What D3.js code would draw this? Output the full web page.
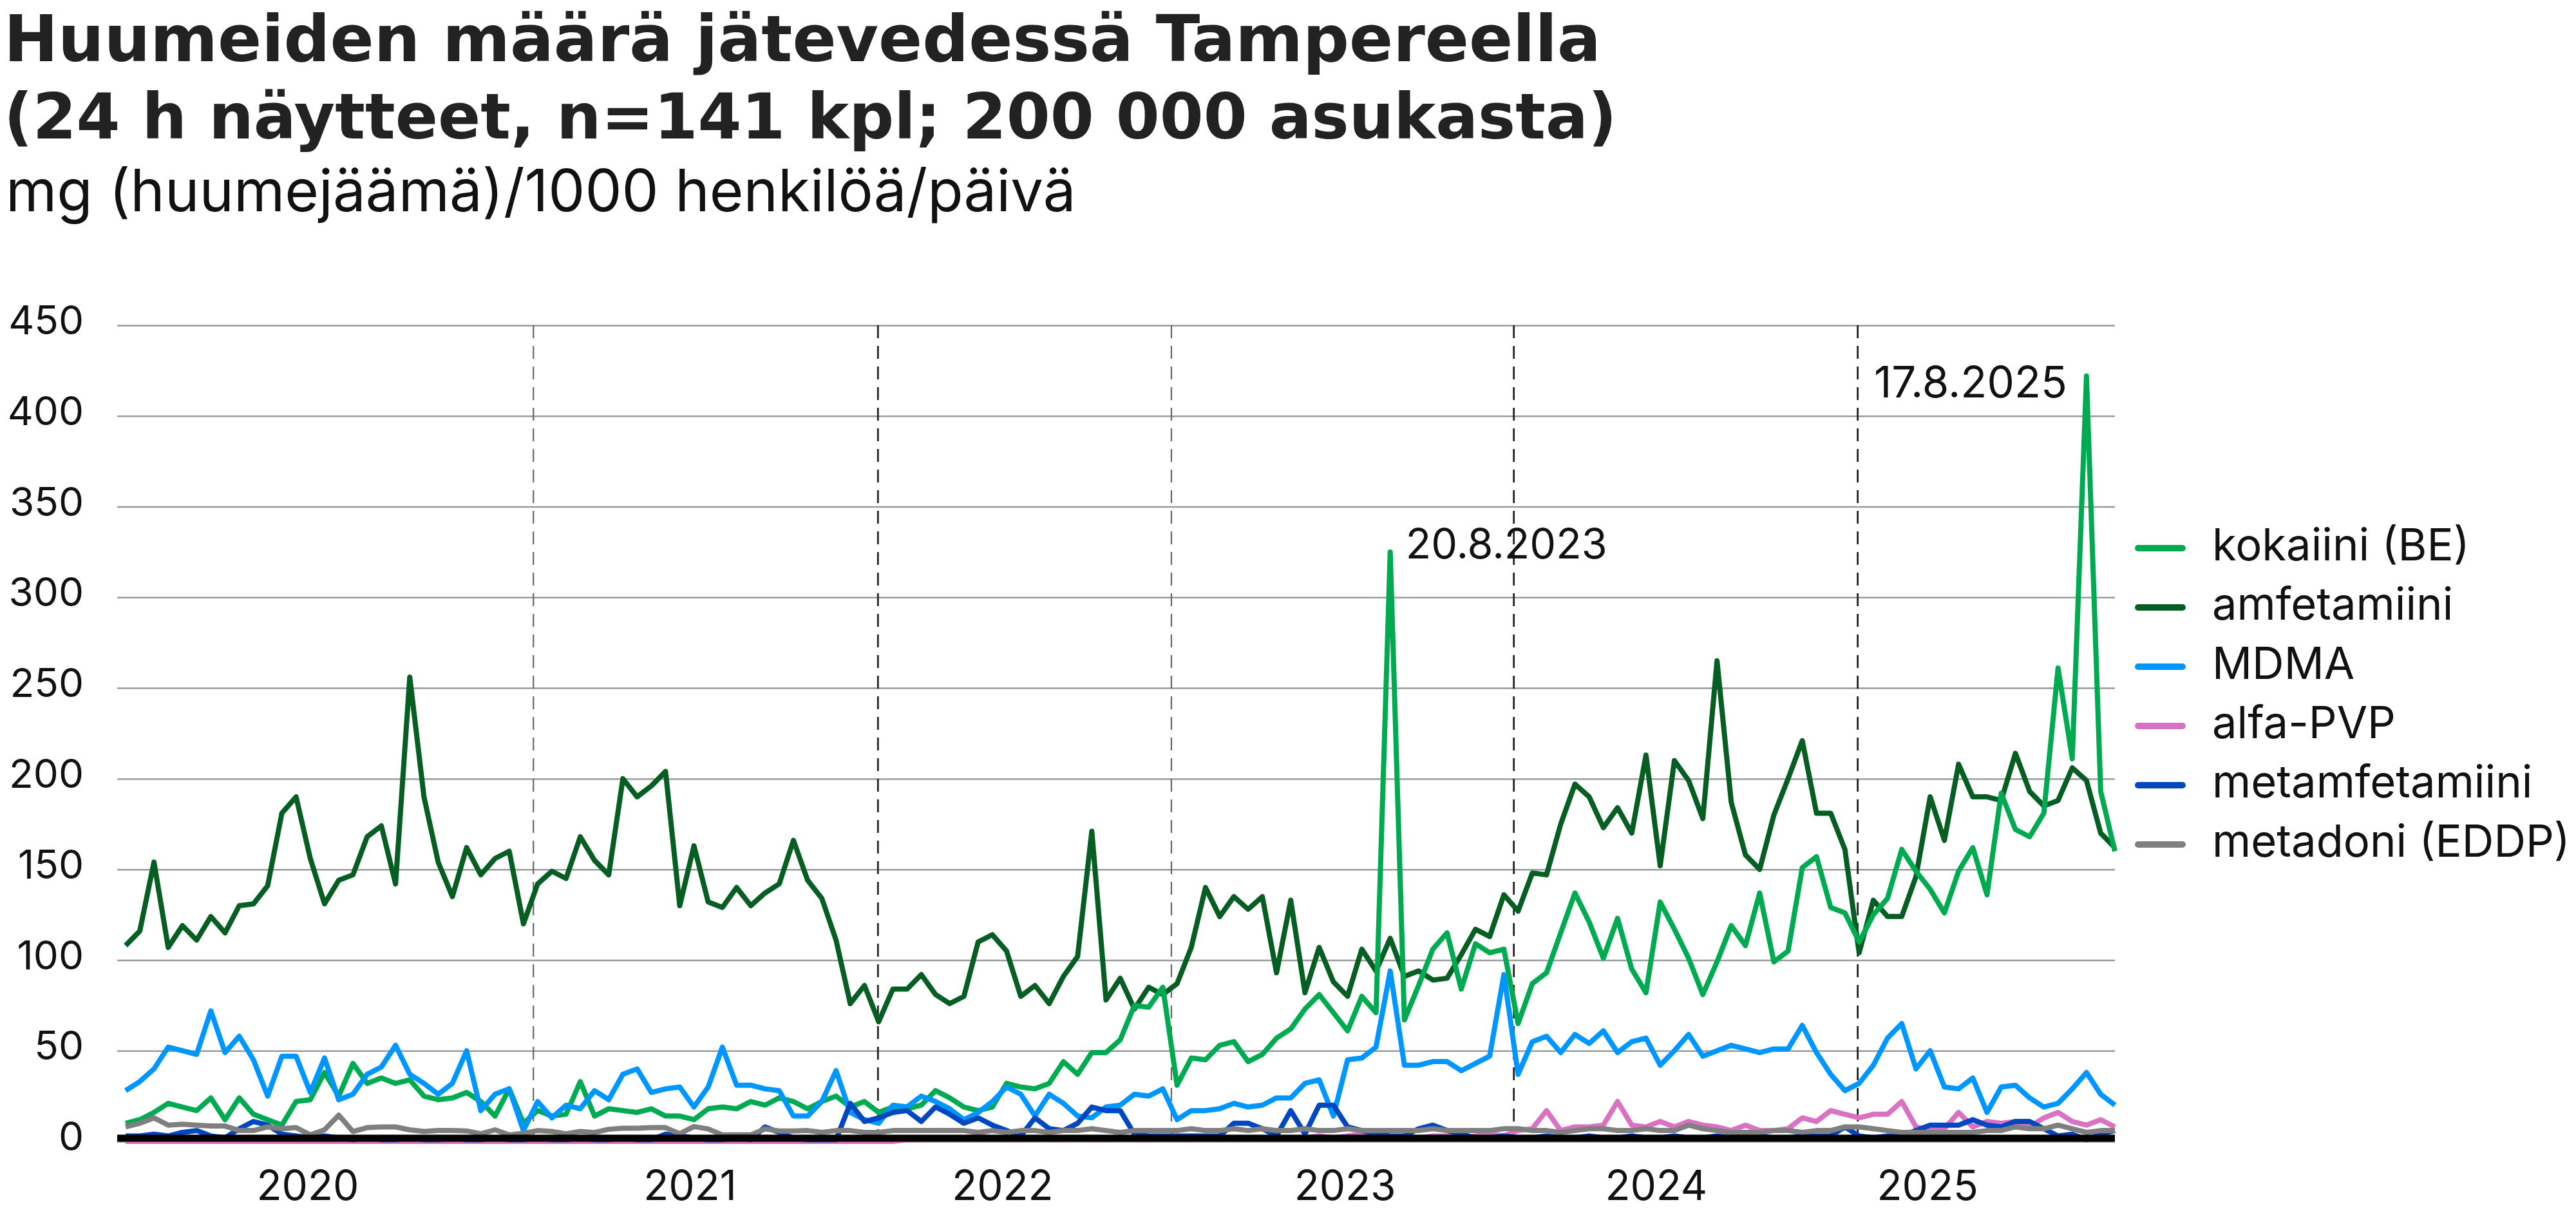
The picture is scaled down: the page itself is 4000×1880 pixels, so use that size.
<!DOCTYPE html>
<html><head><meta charset="utf-8">
<script src="https://cdn.jsdelivr.net/npm/d3@7"></script>
<style>
body{margin:0;background:#fff}
svg{display:block}
text{font-family:Inter,"Noto Sans",sans-serif}
.title{font-family:"DejaVu Sans",Inter,sans-serif}
</style>
</head><body>
<svg id="chart" width="4000" height="1880"></svg>
<script>
// ---- data (mg/1000 henkilöä/päivä), 141 samples ----
const seriesNames = ["kokaiini (BE)","amfetamiini","MDMA","alfa-PVP","metamfetamiini","metadoni (EDDP)"];
const seriesColors = ["#00aa50","#075e22","#0096ff","#da72c4","#0047c0","#7f7f7f"];

const kokaiini = [
10,12,16,21,19,17,24,12,24,15,
12,9,22,23,38,25,43,32,35,32,
34,25,23,24,27,22,14,29,10,17,
14,15,33,14,18,17,16,18,14,14,
12,18,19,18,22,20,24,22,18,22,
25,19,22,16,19,18,20,28,24,19,
17,19,32,30,29,32,44,37,49,49,
56,75,74,85,31,46,45,53,55,44,
48,57,62,73,81,71,61,80,71,325,
67,86,106,115,84,109,104,106,65,87,
93,115,137,121,101,123,95,82,132,117,
101,81,99,119,108,137,99,105,151,157,
129,126,110,125,134,161,149,139,126,149,
162,136,192,172,168,181,261,211,422,193,
160];

const amfetamiini = [
108,116,154,107,119,111,124,115,130,131,
141,181,190,156,131,144,147,168,174,142,
256,190,154,135,162,147,156,160,120,142,
149,145,168,155,147,200,190,196,204,130,
163,132,129,140,130,137,142,166,144,134,
111,76,86,66,84,84,92,81,76,80,
110,114,105,80,86,76,91,102,171,78,
90,73,85,81,87,107,140,124,135,128,
135,93,133,82,107,88,80,106,94,112,
91,94,89,90,103,117,113,136,127,148,
147,175,197,190,173,184,170,213,152,210,
199,178,265,187,158,150,180,200,221,181,
181,161,104,133,124,124,146,190,166,208,
190,190,188,214,193,185,188,206,199,170,
162];

const mdma = [
28,33,40,52,50,48,72,49,58,45,
25,47,47,27,46,23,26,37,41,53,
37,32,26,32,50,17,26,29,6,22,
13,20,18,28,23,37,40,27,29,30,
19,30,52,31,31,29,28,14,14,22,
39,16,12,10,20,19,25,22,18,12,
16,22,30,26,14,26,21,14,13,19,
20,26,25,29,12,17,17,18,21,19,
20,24,24,32,34,14,45,46,52,94,
42,42,44,44,39,43,47,92,37,55,
58,49,59,54,61,49,55,57,42,50,
59,47,50,53,51,49,51,51,64,49,
37,28,32,42,57,65,40,50,30,29,
35,16,30,31,24,19,21,29,38,26,
20];

const alfaPVP = [
0,0,0,0,0,0,0,0,0,0,
0,0,0,0,0,0,0,0,0,0,
0,0,0,0,0,0,0,0,0,0,
0,0,0,0,0,0,0,0,0,0,
0,0,0,0,0,0,0,0,0,0,
0,0,0,0,0,1,1,2,1,2,
3,2,1,1,2,1,1,2,1,1,
2,1,1,2,1,1,2,2,1,2,
2,1,2,2,3,2,3,4,3,2,
3,2,3,3,2,3,4,3,6,7,
17,6,8,8,9,22,9,8,11,8,
11,9,8,6,9,6,6,7,13,11,
17,15,13,15,15,22,8,6,7,16,
8,11,10,11,8,13,16,11,9,12,
8];

const metamfetamiini = [
3,3,4,3,5,6,3,2,7,11,
9,4,3,2,3,2,1,2,1,1,
2,1,1,2,1,1,2,1,1,2,
1,1,2,1,1,2,1,1,4,3,
2,1,1,2,1,8,5,2,1,1,
1,21,11,13,16,17,11,19,15,10,
13,9,6,3,13,7,6,10,19,17,
17,4,3,3,3,3,3,3,10,10,
7,3,17,4,20,20,8,6,4,3,
3,7,9,6,4,2,2,3,2,2,
3,2,2,3,2,2,3,2,2,3,
2,2,3,2,2,3,2,2,3,3,
3,8,3,2,3,3,6,9,9,9,
12,9,8,11,11,7,3,4,1,4,
6];

const metadoni = [
8,10,13,9,9.5,9,8.5,8.5,6,6,
8,7,7.6,3.6,6.4,14.5,5.5,7.6,8,8,
6.4,5.5,6,6,5.8,4.2,6.4,3.6,4.5,6,
5.5,4.2,5.5,4.9,6.7,7.3,7.3,7.6,7.6,4.2,
8.2,6.9,3.6,3.6,3.6,6.9,5.8,5.8,6,5,
6,6,5,5,6,6,6,6,6,6,
5,6,5,6,6,5,6,6,7,6,
5,6,6,6,6,7,6,6,7,6,
7,6,6,7,6,6,7,6,6,6,
6,6,7,6,6,6,6,7,7,6,
6,5,6,7,7,6,6,7,6,6,
9,7,6,5,5,5,6,6,5,6,
6,8,8,7,6,5,5,5,5,5,
5,6,6,8,7,7,9,7,5,6,
6];

const yTicks = [0,50,100,150,200,250,300,350,400,450];
const yearTickPos = [12.8, 39.7, 61.7, 85.8, 107.7, 126.8];
const yearLabels = ["2020","2021","2022","2023","2024","2025"];
const separatorPos = [28.7, 52.95, 73.6, 97.7, 121.9];
const separatorDark = [false, true, false, true, true];
const annotationLabels = ["20.8.2023","17.8.2025"];
const annotationIndex = [89, 138];

const titleLines = ["Huumeiden määrä jätevedessä Tampereella","(24 h näytteet, n=141 kpl; 200 000 asukasta)"];
const subtitle = "mg (huumejäämä)/1000 henkilöä/päivä";

// ---- drawing ----
const svg = d3.select("#chart");
const values = [kokaiini, amfetamiini, mdma, alfaPVP, metamfetamiini, metadoni];
const n = kokaiini.length;
const gridLeft = 182, plotRight = 3284;
const x = d3.scaleLinear().domain([0, n - 1]).range([195, plotRight]);
const y = d3.scaleLinear().domain([0, 450]).range([1772, 505]);

function fit(sel, target) {
  const w = sel.node().getComputedTextLength();
  const fs = parseFloat(sel.attr("font-size"));
  sel.attr("font-size", fs * target / w);
}

// titles
const t1 = svg.append("text").attr("class", "title").attr("x", 6).attr("y", 87).attr("font-size", 95)
  .attr("font-weight", 700).attr("fill", "#222").text(titleLines[0]);
fit(t1, 2480);
const t2 = svg.append("text").attr("class", "title").attr("x", 6).attr("y", 215).attr("font-size", 95)
  .attr("font-weight", 700).attr("fill", "#222").text(titleLines[1]);
fit(t2, 2505);
[t1].forEach(t => {
  const bb = t.node().getBBox();
  if (bb.y < 2) t.attr("y", +t.attr("y") + (2 - bb.y));
});
const st = svg.append("text").attr("x", 9).attr("y", 328).attr("font-size", 72)
  .attr("fill", "#111").text(subtitle);
fit(st, 1662);

// y axis & grid
const yAxis = svg.append("g").attr("transform", `translate(${gridLeft},0)`)
  .call(d3.axisLeft(y).tickValues(yTicks).tickSize(-(plotRight - gridLeft)).tickPadding(52).tickFormat(d3.format("d")));
yAxis.select(".domain").remove();
yAxis.selectAll(".tick line").attr("stroke", "#9a9a9a").attr("stroke-width", 2.5);
yAxis.selectAll(".tick text").attr("font-size", 62).attr("fill", "#111").attr("dy", "0.22em");

// separators
separatorPos.forEach((p, k) => {
  svg.append("line").attr("x1", x(p)).attr("x2", x(p)).attr("y1", y(450)).attr("y2", y(0))
    .attr("stroke", separatorDark[k] ? "#222" : "#666")
    .attr("stroke-width", separatorDark[k] ? 2.8 : 2.2)
    .attr("stroke-dasharray", "20,12");
});

// x axis labels
const xAxis = svg.append("g").attr("transform", `translate(0,${y(0)})`)
  .call(d3.axisBottom(x).tickValues(yearTickPos).tickSize(0).tickFormat((d, k) => yearLabels[k]));
xAxis.select(".domain").remove();
xAxis.selectAll(".tick text").attr("font-size", 64).attr("fill", "#111").attr("dy", 0).attr("y", 91);

// lines
const line = d3.line().x((d, i) => x(i)).y(d => y(d));
const drawOrder = [1, 0, 2, 3, 4, 5];
drawOrder.forEach(k => {
  svg.append("path").datum(values[k]).attr("d", line)
    .attr("fill", "none").attr("stroke", seriesColors[k]).attr("stroke-width", 8)
    .attr("stroke-linejoin", "round").attr("stroke-linecap", "butt");
});

// zero axis band (sits just above the zero gridline)
svg.append("line").attr("x1", gridLeft).attr("x2", plotRight).attr("y1", y(0) - 5).attr("y2", y(0) - 5)
  .attr("stroke", "#000").attr("stroke-width", 11);

// annotations
const a1 = svg.append("text").attr("x", x(annotationIndex[0]) + 24).attr("y", 867).attr("font-size", 62)
  .attr("fill", "#111").text(annotationLabels[0]);
fit(a1, 313);
const a2 = svg.append("text").attr("x", x(annotationIndex[1]) - 30).attr("y", 617).attr("font-size", 62)
  .attr("text-anchor", "end").attr("fill", "#111").text(annotationLabels[1]);
fit(a2, 300);

// legend
const legY = [851, 943, 1035, 1127, 1219, 1311];
const leg = svg.append("g");
seriesNames.forEach((name, k) => {
  leg.append("line").attr("x1", 3320).attr("x2", 3389).attr("y1", legY[k]).attr("y2", legY[k])
    .attr("stroke", seriesColors[k]).attr("stroke-width", 10).attr("stroke-linecap", "round");
  leg.append("text").attr("class", "legtext").attr("x", 3435).attr("y", legY[k] + 19)
    .attr("font-size", 64).attr("fill", "#111").text(name);
});
const longest = leg.selectAll(".legtext").filter((d, i) => i === 5);
const w5 = longest.node().getComputedTextLength();
leg.selectAll(".legtext").attr("font-size", 64 * 556 / w5);
</script>
</body></html>
